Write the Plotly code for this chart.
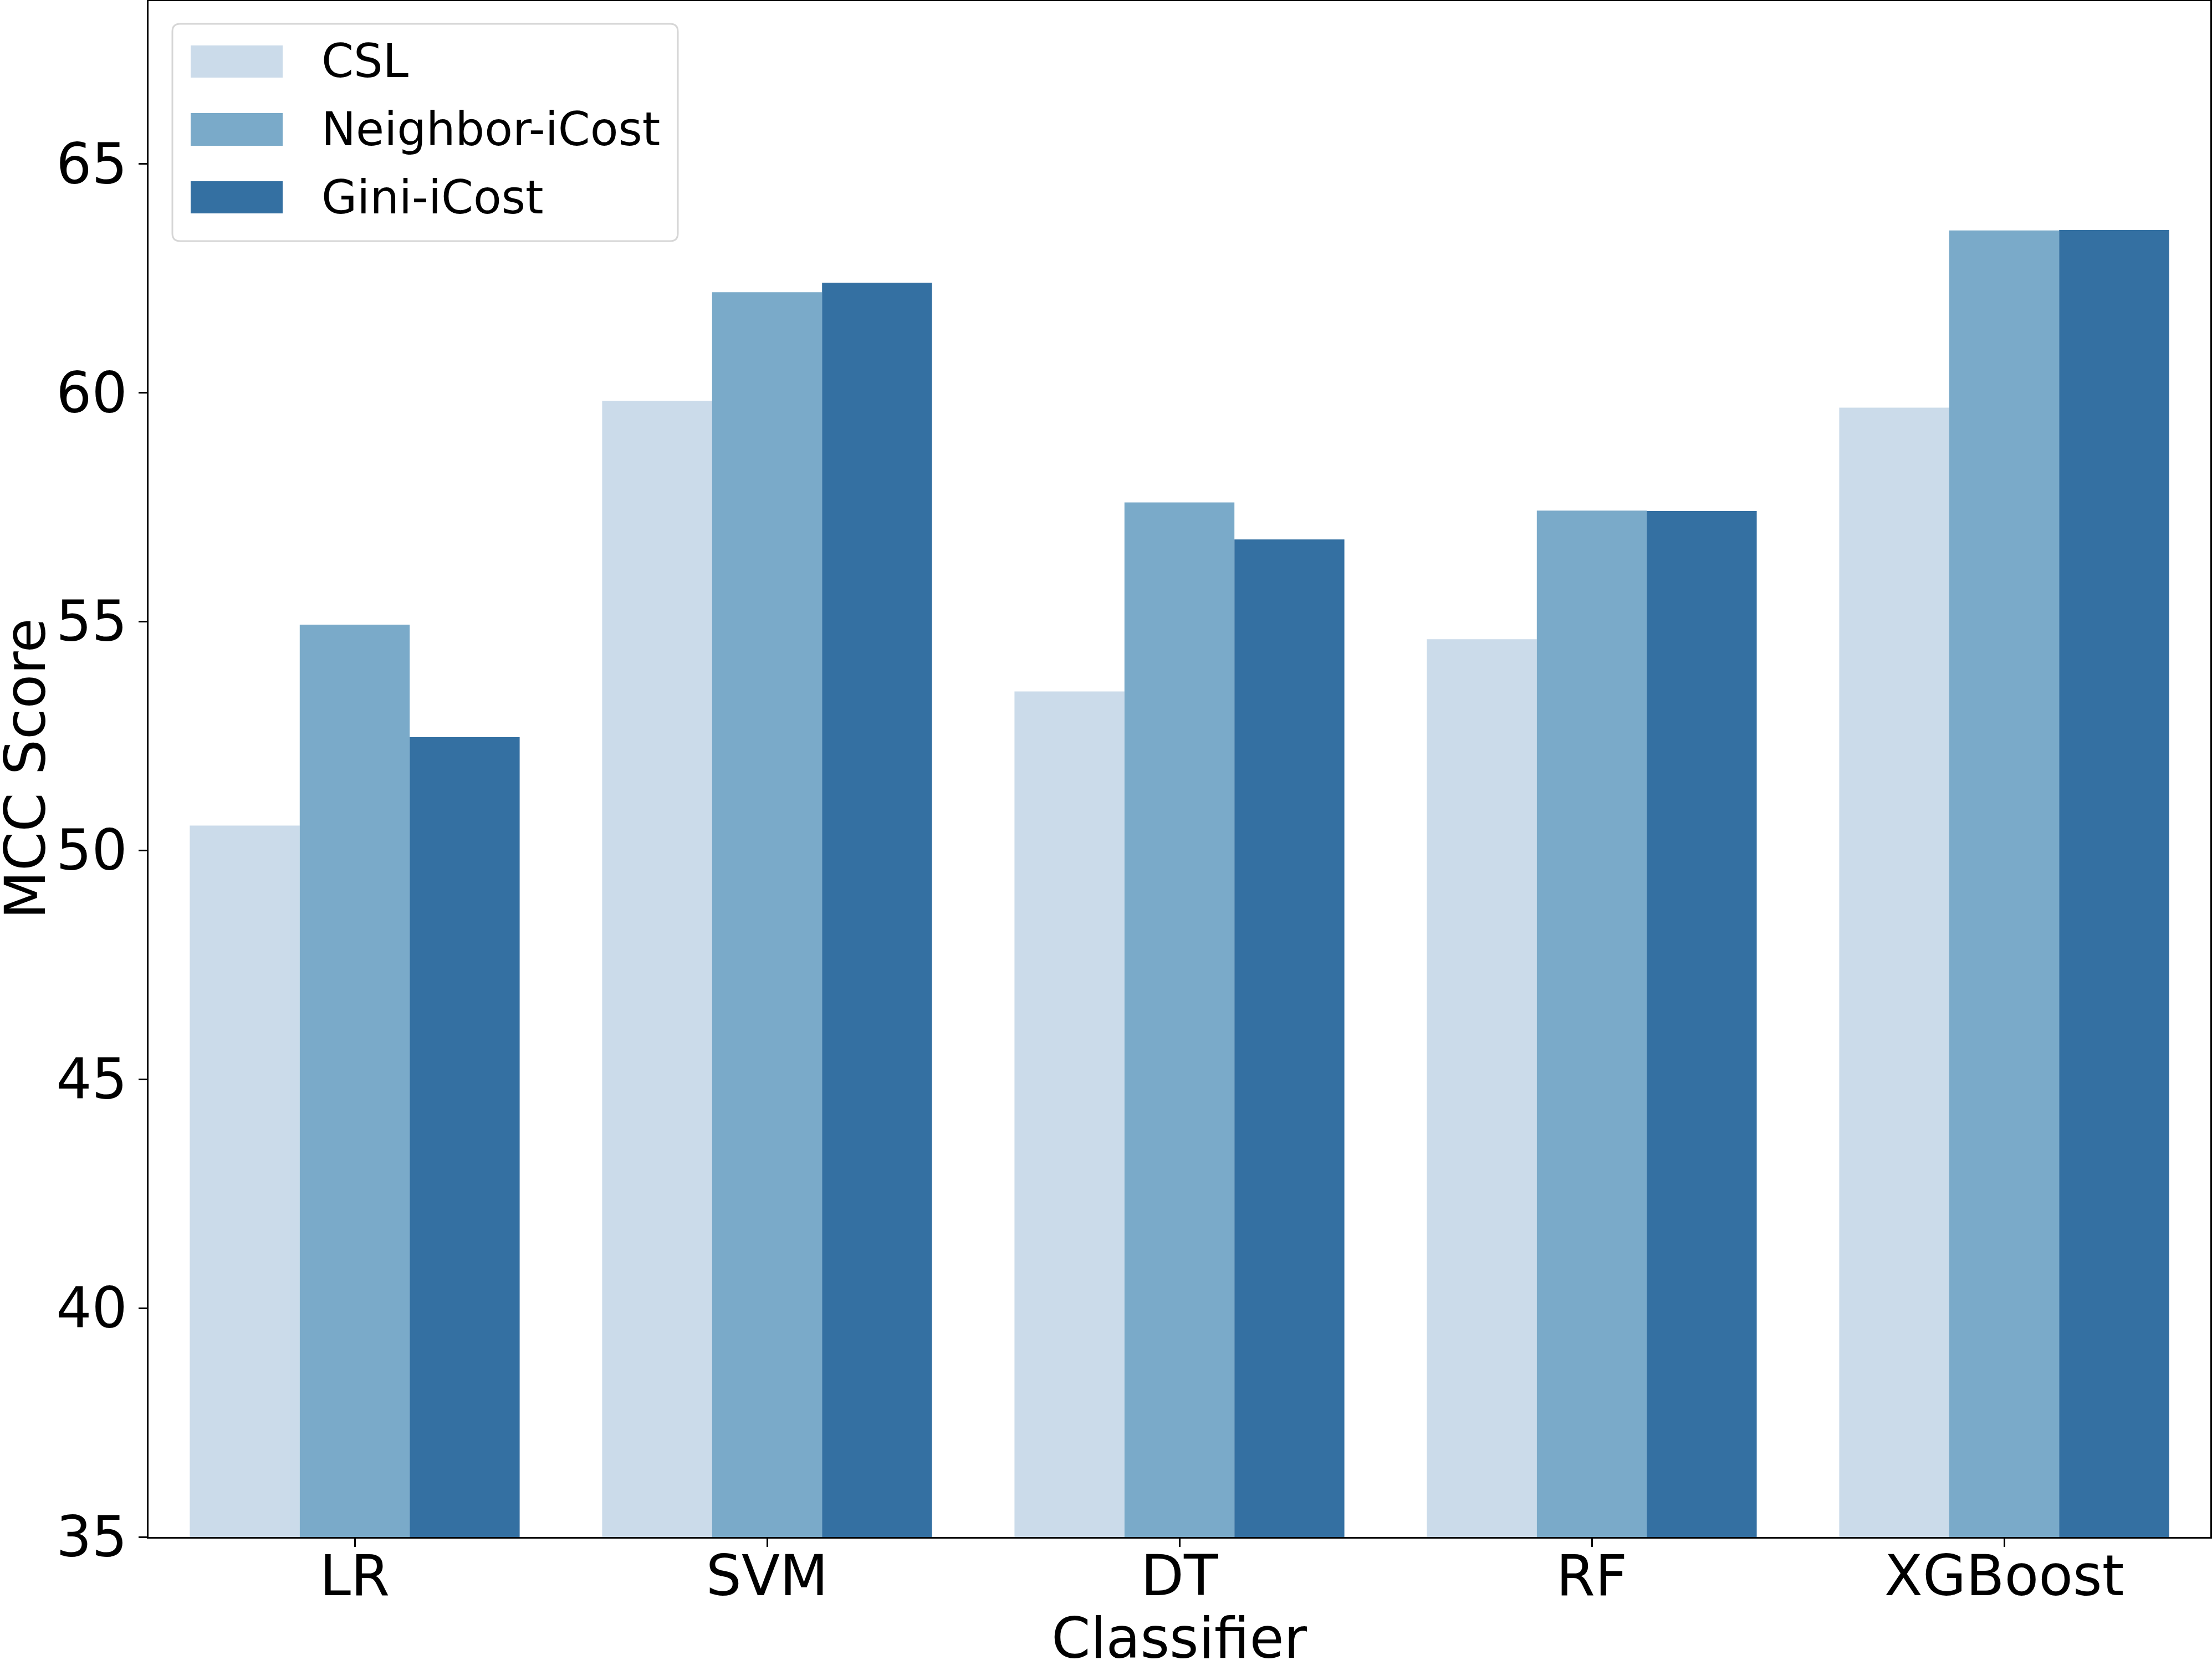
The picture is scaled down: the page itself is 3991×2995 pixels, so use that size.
import plotly.graph_objects as go

# ---- data ----
classifiers = ["LR", "SVM", "DT", "RF", "XGBoost"]
series_names = ["CSL", "Neighbor-iCost", "Gini-iCost"]
csl = [50.54, 59.82, 53.47, 54.61, 59.67]
neighbor_icost = [54.93, 62.19, 57.60, 57.42, 63.54]
gini_icost = [52.47, 62.40, 56.79, 57.41, 63.55]
y_ticks = [35, 40, 45, 50, 55, 60, 65]

colors = ["#cbdbea", "#7aaac9", "#3470a2"]
series_values = [csl, neighbor_icost, gini_icost]

W, H = 3991, 2995
ML, MR, MT, MB = 268, 3, 2, 222
PW = W - ML - MR
PH = H - MT - MB
FONT = "DejaVu Sans"
TICK_SIZE = 101
LEG_SIZE = 83

fig = go.Figure()
for name, vals, col in zip(series_names, series_values, colors):
    fig.add_trace(go.Bar(
        name=name, x=classifiers, y=vals,
        marker=dict(color=col, line=dict(width=0)),
        showlegend=False,
    ))


def px_x(px):
    return (px - ML) / PW


def px_y(py):
    return (H - MB - py) / PH


def rounded_rect(x0, y0, x1, y1, r):
    rx = r / PW
    ry = r / PH
    X0, X1 = px_x(x0), px_x(x1)
    Yt, Yb = px_y(y0), px_y(y1)
    return (f"M{X0+rx},{Yt} L{X1-rx},{Yt} Q{X1},{Yt} {X1},{Yt-ry} "
            f"L{X1},{Yb+ry} Q{X1},{Yb} {X1-rx},{Yb} "
            f"L{X0+rx},{Yb} Q{X0},{Yb} {X0},{Yb+ry} "
            f"L{X0},{Yt-ry} Q{X0},{Yt} {X0+rx},{Yt} Z")


shapes = [dict(type="path", xref="paper", yref="paper",
               path=rounded_rect(311, 43, 1223, 435, 14),
               fillcolor="rgba(255,255,255,0.8)",
               line=dict(color="#d6d6d6", width=3), layer="above")]
annotations = []
patch_rows = [(82, 140), (204, 263), (327, 385)]
for (t, b), name, col in zip(patch_rows, series_names, colors):
    shapes.append(dict(type="rect", xref="paper", yref="paper",
                       x0=px_x(344), x1=px_x(510), y0=px_y(b), y1=px_y(t),
                       fillcolor=col, line=dict(width=0), layer="above"))
    annotations.append(dict(xref="paper", yref="paper", x=px_x(578),
                            y=px_y((t + b) / 2), xanchor="left", yanchor="middle",
                            text=name, showarrow=False,
                            font=dict(family=FONT, size=LEG_SIZE, color="black")))

# axis titles
annotations.append(dict(xref="paper", yref="paper", x=0.5, y=px_y(2956),
                        xanchor="center", yanchor="middle", text="Classifier",
                        showarrow=False,
                        font=dict(family=FONT, size=TICK_SIZE, color="black")))
annotations.append(dict(xref="paper", yref="paper", x=px_x(45), y=0.5,
                        xanchor="center", yanchor="middle", text="MCC Score",
                        textangle=-90, showarrow=False,
                        font=dict(family=FONT, size=TICK_SIZE, color="black")))

fig.update_layout(
    width=W, height=H,
    margin=dict(l=ML, r=MR, t=MT, b=MB, pad=0),
    paper_bgcolor="white", plot_bgcolor="white",
    barmode="group", bargap=0.2, bargroupgap=0,
    font=dict(family=FONT, color="black"),
    shapes=shapes, annotations=annotations,
    showlegend=False,
)
fig.update_xaxes(
    type="category", range=[-0.5, 4.5],
    showline=True, linecolor="black", linewidth=3, mirror=True,
    ticks="outside", ticklen=15, tickwidth=3, tickcolor="black",
    ticklabelstandoff=-34,
    tickfont=dict(family=FONT, size=TICK_SIZE, color="black"),
    showgrid=False, zeroline=False, automargin=False,
)
fig.update_yaxes(
    range=[35, 68.55], tickvals=y_ticks, ticktext=[str(v) for v in y_ticks],
    showline=True, linecolor="black", linewidth=3, mirror=True,
    ticks="outside", ticklen=15, tickwidth=3, tickcolor="black",
    tickfont=dict(family=FONT, size=TICK_SIZE, color="black"),
    showgrid=False, zeroline=False, automargin=False,
)

fig.write_html("out.html")
